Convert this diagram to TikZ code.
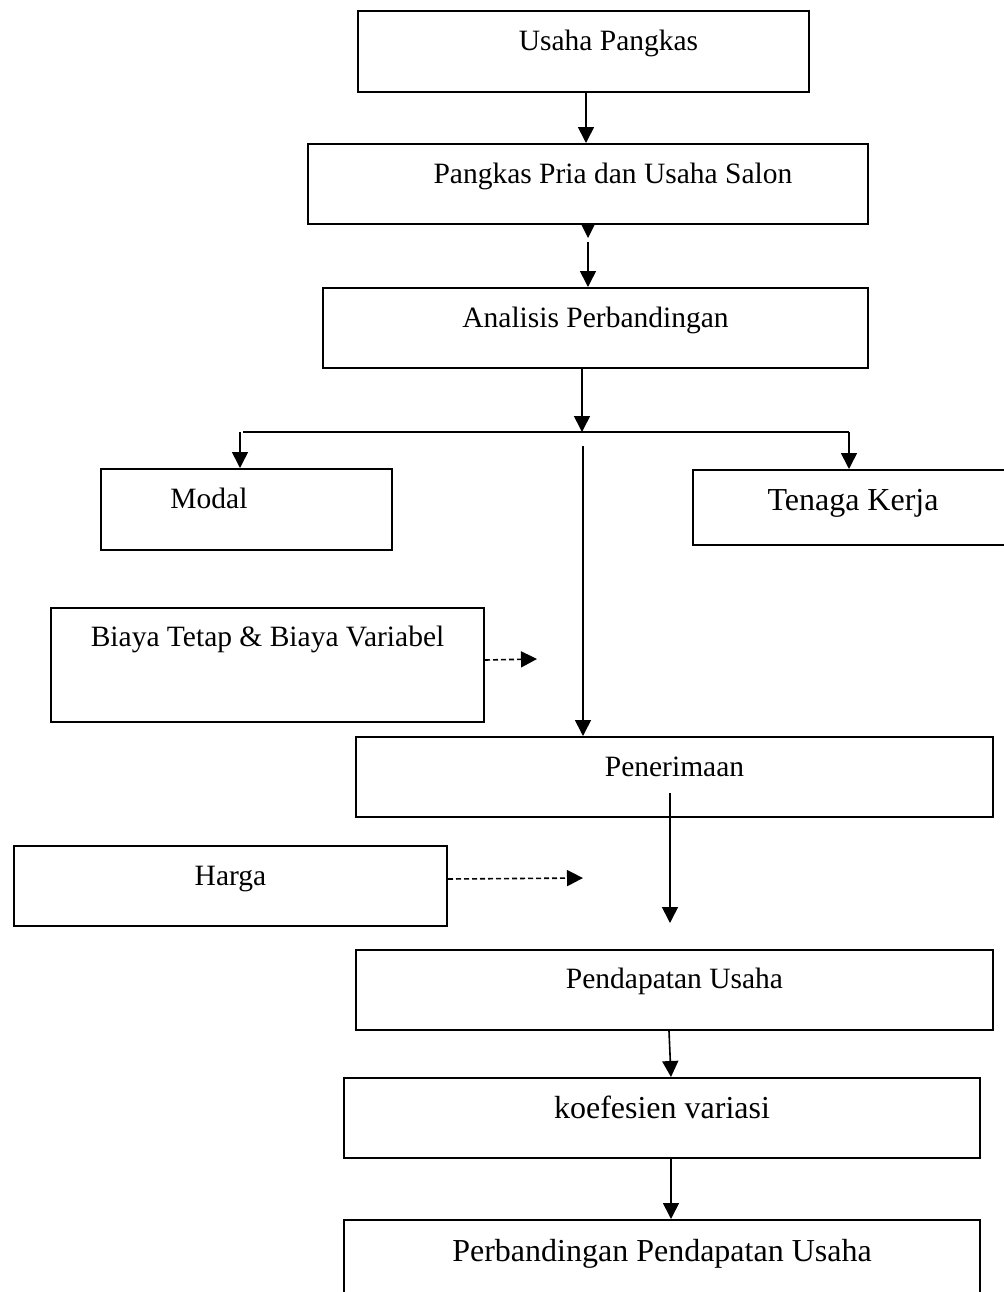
\documentclass[tikz,border=0pt]{standalone}
\usepackage{fontspec}
\setmainfont{Liberation Serif}
\usepackage{tikz}
\usetikzlibrary{arrows.meta}

\begin{document}
\begin{tikzpicture}[x=0.5pt, y=-0.5pt,
    box/.style={draw, line width=1pt, inner sep=0pt, anchor=north west,
        font=\fontsize{14.75}{17}\selectfont},
    big/.style={font=\fontsize{16}{19}\selectfont},
    arr/.style={line width=0.8pt, -{Triangle[width=8pt,length=8pt]}},
    dasharr/.style={arr, dash pattern=on 2.5pt off 1.5pt}]

\useasboundingbox (0,0) rectangle (1003,1292);

\node[box, minimum width=225.5pt, text height=19.5pt, text depth=21pt]   (usaha)    at (357,10)   {\hspace*{25pt}Usaha Pangkas};
\node[box, minimum width=280pt, text height=19.5pt, text depth=20.5pt]   (salon)    at (307,143)  {\hspace*{25pt}Pangkas Pria dan Usaha Salon};
\node[box, minimum width=272.5pt, text height=19.5pt, text depth=20.5pt] (analisis) at (322,287)  {Analisis Perbandingan};
\node[box, minimum width=145.5pt, text height=19.5pt, text depth=21pt]   (modal)    at (100,468)  {Modal\hspace*{37.5pt}};
\node[box, big, minimum width=160pt, text height=20pt, text depth=17.5pt] (tenaga)  at (692,469)  {Tenaga Kerja};
\node[box, minimum width=216.5pt, text height=19pt, text depth=38pt]     (biaya)    at (50,607)   {Biaya Tetap \& Biaya Variabel};
\node[box, minimum width=318.5pt, text height=19.5pt, text depth=20.5pt] (terima)   at (355,736)  {Penerimaan};
\node[box, minimum width=216.5pt, text height=19.5pt, text depth=20.5pt] (harga)    at (13,845)   {Harga};
\node[box, minimum width=318.5pt, text height=19pt, text depth=21pt]     (dapat)    at (355,949)  {Pendapatan Usaha};
\node[box, big, minimum width=318pt, text height=20pt, text depth=20pt]  (koef)     at (343,1077) {koefesien variasi};
\node[box, big, minimum width=318pt, text height=20.5pt, text depth=30pt] (banding) at (343,1219) {Perbandingan Pendapatan Usaha};

\coordinate (split) at (582,432);
\coordinate (left)  at (240,432);
\coordinate (lbar)  at (243,432);
\coordinate (right) at (849,432);
\coordinate (down)  at (583,446);
\coordinate (btip)  at (537,659);
\coordinate (htip)  at (583,878);
\coordinate (tout)  at (670,793);
\coordinate (ttip)  at (670,923);

\draw[arr] ([xshift=1.25pt]usaha.south) -- ([xshift=1.25pt]usaha.south |- salon.north);
\fill ([xshift=-3.25pt]salon.south) -- ([xshift=3.25pt]salon.south) -- ([yshift=-6.5pt]salon.south) -- cycle;
\draw[arr] ([yshift=-8.5pt]salon.south) -- (salon.south |- analisis.north);
\draw[arr] (analisis.south -| split) -- (split);
\draw[line width=0.8pt] (lbar) -- (right);
\draw[arr] (left) -- (left |- modal.north);
\draw[arr] (right) -- (right |- tenaga.north);
\draw[arr] (down) -- (down |- terima.north);
\draw[dasharr] ([yshift=2.5pt]biaya.east) -- (btip);
\draw[dasharr] ([yshift=3.5pt]harga.east) -- (htip);
\draw[arr] (tout) -- (ttip);
\draw[arr] ([xshift=-2.75pt]dapat.south) -- ([xshift=4.5pt]koef.north);
\draw[arr] ([xshift=4.5pt]koef.south) -- ([xshift=4.5pt]banding.north);

\end{tikzpicture}
\end{document}
